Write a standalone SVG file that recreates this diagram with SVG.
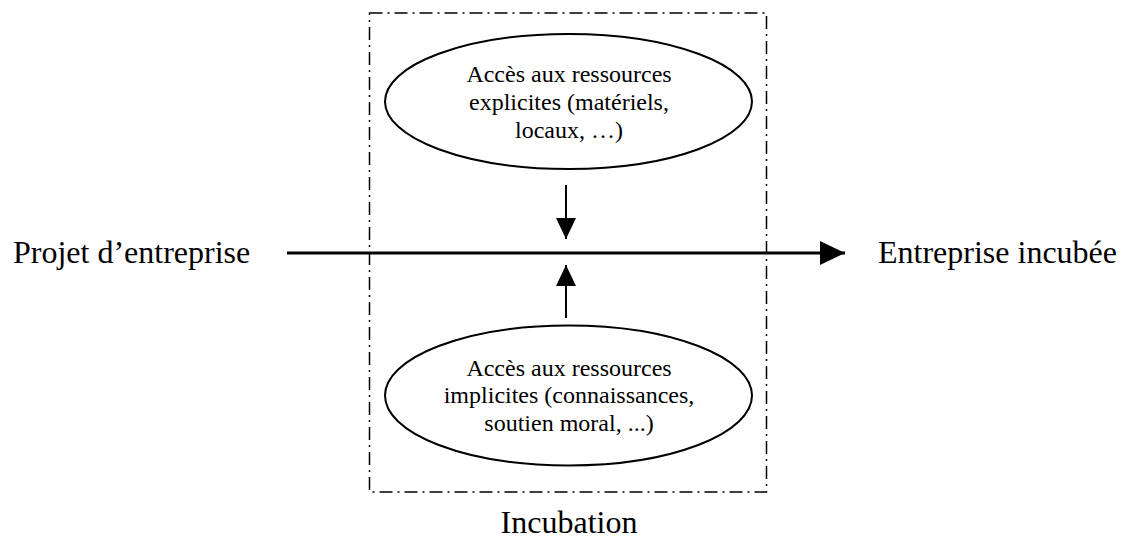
<svg xmlns="http://www.w3.org/2000/svg" width="1126" height="540" viewBox="0 0 1126 540">
<style>
.t{font-family:"Liberation Serif","Times New Roman",serif;fill:#000}
.s{font-size:24px;text-anchor:middle}
.b{font-size:32px}
.el{fill:#fff;stroke:#000;stroke-width:2}
.c{stroke:#000;fill:none}
</style>
<defs>
<marker id="big" markerUnits="userSpaceOnUse" markerWidth="26" markerHeight="24" refX="25" refY="12" orient="auto">
<path d="M0,0 L25,12 L0,24 Z" fill="#000"/>
</marker>
<marker id="small" markerUnits="userSpaceOnUse" markerWidth="22" markerHeight="20" refX="21" refY="10" orient="auto">
<path d="M0,0 L21,10 L0,20 Z" fill="#000"/>
</marker>
</defs>
<rect id="incubation-box" x="369.5" y="13" width="397" height="479" fill="none" stroke="#000" stroke-width="1.5" stroke-dasharray="13,5,2,5"/>
<g id="connectors">
<line class="c" x1="287" y1="253" x2="845" y2="253" stroke-width="3" marker-end="url(#big)"/>
<line class="c" x1="566" y1="185" x2="566" y2="239" stroke-width="2" marker-end="url(#small)"/>
<line class="c" x1="566" y1="318" x2="566" y2="265" stroke-width="2" marker-end="url(#small)"/>
</g>
<g id="explicit">
<ellipse class="el" cx="568.5" cy="101.5" rx="183.5" ry="67.5"/>
<text class="t s" x="569" y="82">Accès aux ressources</text>
<text class="t s" x="569" y="110">explicites (matériels,</text>
<text class="t s" x="569" y="138">locaux, …)</text>
</g>
<g id="implicit">
<ellipse class="el" cx="568.5" cy="395.5" rx="183.5" ry="70"/>
<text class="t s" x="569" y="376">Accès aux ressources</text>
<text class="t s" x="569" y="403">implicites (connaissances,</text>
<text class="t s" x="569" y="431">soutien moral, ...)</text>
</g>
<g id="projet"><text class="t b" x="13" y="263">Projet d’entreprise</text></g>
<g id="entreprise"><text class="t b" x="878" y="263">Entreprise incubée</text></g>
<g id="incubation-label"><text class="t b" x="569" y="533" text-anchor="middle">Incubation</text></g>
</svg>
